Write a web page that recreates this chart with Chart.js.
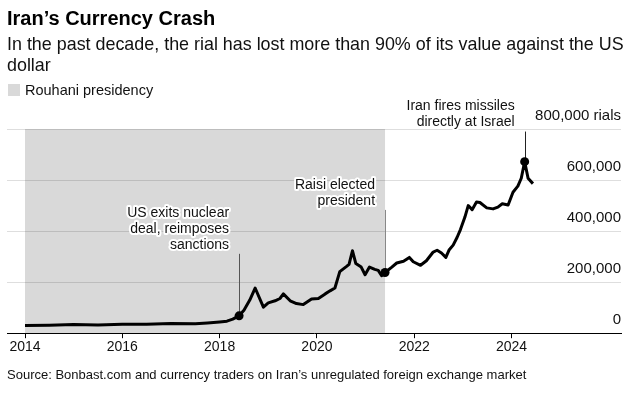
<!DOCTYPE html>
<html>
<head>
<meta charset="utf-8">
<script src="https://cdn.jsdelivr.net/npm/chart.js@4/dist/chart.umd.min.js"></script>
<style>
  body { margin: 0; background: #fff; font-family: 'Liberation Sans', Arial, sans-serif; color: #000; }
  #wrap { position: relative; width: 637px; height: 395px; overflow: hidden; }
  #rialChart { position: absolute; left: 0; top: 0; }
  .txt { position: absolute; left: 7px; white-space: nowrap; }
  #title { top: 6px; font-size: 20px; line-height: 24px; font-weight: bold; }
  #subtitle { top: 34px; font-size: 17.9px; line-height: 21px; color: #111; }
  #legend { top: 82px; font-size: 14.5px; line-height: 16px; color: #111; }
  #legend span.box { display: inline-block; width: 12px; height: 12px; background: #d9d9d9; vertical-align: -1px; margin: 0 5px 0 1px; }
  #source { top: 367px; font-size: 13px; line-height: 16px; color: #111; }
</style>
</head>
<body>
<div id="wrap">
  <canvas id="rialChart" width="637" height="395"></canvas>
  <div class="txt" id="title">Iran’s Currency Crash</div>
  <div class="txt" id="subtitle">In the past decade, the rial has lost more than 90% of its value against the US<br>dollar</div>
  <div class="txt" id="legend"><span class="box"></span>Rouhani presidency</div>
  <div class="txt" id="source">Source: Bonbast.com and currency traders on Iran’s unregulated foreign exchange market</div>
</div>
<script>
// rials per US dollar, x = decimal year
const dates = [
    2014.0, 2014.5, 2015.0, 2015.5, 2016.0, 2016.5, 2017.0, 2017.5, 2017.75, 2018.0,
    2018.15, 2018.27, 2018.4, 2018.5, 2018.62, 2018.73, 2018.9, 2019.0, 2019.14, 2019.24,
    2019.31, 2019.45, 2019.58, 2019.72, 2019.89, 2020.03, 2020.17, 2020.27, 2020.37, 2020.47,
    2020.61, 2020.66, 2020.73, 2020.8, 2020.91, 2020.99, 2021.08, 2021.19, 2021.26, 2021.33,
    2021.4, 2021.54, 2021.64, 2021.78, 2021.9, 2021.98, 2022.13, 2022.25, 2022.39, 2022.47,
    2022.56, 2022.65, 2022.72, 2022.8, 2022.88, 2022.95, 2023.04, 2023.11, 2023.19, 2023.28,
    2023.35, 2023.49, 2023.62, 2023.72, 2023.81, 2023.93, 2024.03, 2024.13, 2024.2, 2024.27,
    2024.34, 2024.44
];
const rials = [
    30000, 31000, 34000, 32000, 35000, 35000, 38000, 37000, 40000, 44000,
    47000, 55000, 68000, 90000, 130000, 177000, 102000, 119000, 127000, 136000,
    154000, 127000, 116000, 112000, 134000, 136000, 154000, 166000, 177000, 241000,
    262000, 270000, 323000, 273000, 259000, 229000, 259000, 250000, 246000, 225000,
    238000, 259000, 275000, 282000, 297000, 280000, 266000, 284000, 318000, 325000,
    314000, 297000, 327000, 345000, 375000, 406000, 454000, 500000, 484000, 514000,
    512000, 491000, 487000, 494000, 507000, 502000, 552000, 576000, 607000, 672000,
    607000, 586000
];

const eventDates = [2018.4, 2021.4, 2024.27];
const eventValues = [68000, 238000, 672000];
const eventStemTops = [311000, 483000, 790000];
const eventLabels = [
    ['US exits nuclear', 'deal, reimposes', 'sanctions'],
    ['Raisi elected', 'president'],
    ['Iran fires missiles', 'directly at Israel']
];

const rouhaniStart = 2014.0;
const rouhaniEnd = 2021.4;

const xTicks = [2014, 2016, 2018, 2020, 2022, 2024];
const yTicks = [0, 200000, 400000, 600000, 800000];

const FONT = "'Liberation Sans', Arial, sans-serif";

const shadePlugin = {
    id: 'shade',
    beforeDraw(chart) {
        const { ctx, scales: { x, y } } = chart;
        const x0 = x.getPixelForValue(rouhaniStart);
        const x1 = x.getPixelForValue(rouhaniEnd);
        const y0 = y.getPixelForValue(800000);
        const y1 = y.getPixelForValue(0);
        ctx.save();
        ctx.fillStyle = '#d9d9d9';
        ctx.fillRect(x0, y0, x1 - x0, y1 - y0);
        ctx.restore();
    }
};

const notesPlugin = {
    id: 'notes',
    beforeDatasetsDraw(chart) {
        const { ctx, scales: { x, y } } = chart;
        const stemColors = ['#555', '#888', '#222'];
        ctx.save();
        eventDates.forEach((d, i) => {
            const px = Math.round(x.getPixelForValue(d)) + 0.5;
            ctx.strokeStyle = stemColors[i];
            ctx.lineWidth = 1;
            ctx.beginPath();
            ctx.moveTo(px, y.getPixelForValue(eventStemTops[i]));
            ctx.lineTo(px, y.getPixelForValue(eventValues[i]));
            ctx.stroke();
        });
        ctx.restore();
    },
    afterDatasetsDraw(chart) {
        const { ctx, scales: { x, y } } = chart;
        ctx.save();
        ctx.font = '14px ' + FONT;
        ctx.textAlign = 'right';
        ctx.textBaseline = 'middle';
        ctx.lineJoin = 'round';
        eventDates.forEach((d, i) => {
            const px = x.getPixelForValue(d) - 10;
            const top = y.getPixelForValue(eventStemTops[i]) - 9;
            const lines = eventLabels[i];
            lines.forEach((line, j) => {
                const py = top - (lines.length - 1 - j) * 16;
                ctx.strokeStyle = '#fff';
                ctx.lineWidth = 4;
                ctx.strokeText(line, px, py);
                ctx.fillStyle = '#111';
                ctx.fillText(line, px, py);
            });
        });
        ctx.restore();
    }
};

new Chart(document.getElementById('rialChart'), {
    type: 'line',
    data: {
        datasets: [{
            data: dates.map((d, i) => ({ x: d, y: rials[i] })),
            borderColor: '#000',
            borderWidth: 3,
            pointRadius: 0,
            tension: 0,
            borderJoinStyle: 'round'
        }, {
            data: eventDates.map((d, i) => ({ x: d, y: eventValues[i] })),
            showLine: false,
            pointRadius: 4.5,
            pointBackgroundColor: '#000',
            pointBorderWidth: 0
        }]
    },
    options: {
        responsive: false,
        animation: false,
        devicePixelRatio: 1,
        layout: { padding: { top: 129, left: 7, right: 16, bottom: 38 } },
        plugins: {
            legend: { display: false },
            tooltip: { enabled: false }
        },
        scales: {
            x: {
                type: 'linear',
                min: 2013.63,
                max: 2026.25,
                afterBuildTicks: (scale) => { scale.ticks = xTicks.map(v => ({ value: v })); },
                grid: { drawOnChartArea: false, drawTicks: true, tickLength: 5, color: '#000' },
                border: { display: true, color: '#000', width: 1 },
                ticks: {
                    callback: (v) => String(v),
                    font: { family: FONT, size: 14 },
                    color: '#111',
                    padding: 1,
                    maxRotation: 0
                }
            },
            y: {
                position: 'right',
                min: 0,
                max: 800000,
                afterBuildTicks: (scale) => { scale.ticks = yTicks.map(v => ({ value: v })); },
                grid: { color: 'rgba(0,0,0,0.13)', drawTicks: false },
                border: { display: false },
                ticks: {
                    mirror: true,
                    padding: 0,
                    labelOffset: -13.5,
                    font: { family: FONT, size: 15 },
                    color: '#111',
                    callback: (v) => v === 800000 ? '800,000 rials' : v.toLocaleString('en-US')
                }
            }
        }
    },
    plugins: [shadePlugin, notesPlugin]
});
</script>
</body>
</html>
